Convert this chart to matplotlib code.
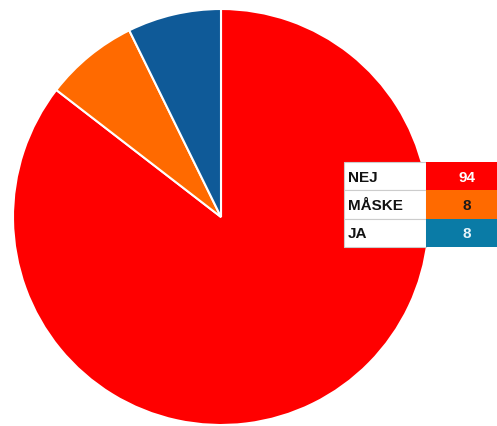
import matplotlib
matplotlib.use("Agg")
import matplotlib.pyplot as plt
from matplotlib.patches import Rectangle

labels = ["NEJ", "MÅSKE", "JA"]
values = [94, 8, 8]
pie_colors = ["#ff0000", "#ff6a00", "#0f5a98"]
cell_colors = ["#ff0000", "#ff6a00", "#0a7ba6"]
value_text_colors = ["#ffffff", "#1a1a1a", "#e8f4fa"]

W, H = 497, 427
fig = plt.figure(figsize=(W / 100, H / 100), dpi=100)

# pie axes
cx, cy, r = 221, 218, 208
ax = fig.add_axes([(cx - r) / W, (H - cy - r) / H, 2 * r / W, 2 * r / H])
ax.pie(values, colors=pie_colors, startangle=90, counterclock=False, radius=1,
       wedgeprops=dict(edgecolor="white", linewidth=1.5))
ax.set_xlim(-1, 1)
ax.set_ylim(-1, 1)
ax.set_aspect("auto")
ax.axis("off")

# table overlay in pixel coordinates
tax = fig.add_axes([0, 0, 1, 1])
tax.set_xlim(0, W)
tax.set_ylim(H, 0)
tax.axis("off")

fam = ["Liberation Sans Narrow", "Liberation Sans", "DejaVu Sans"]
x0, xsplit, x1 = 344, 426, 510
ytop, rowh = 163, 28.3
for i, (lab, val) in enumerate(zip(labels, values)):
    y = ytop + i * rowh
    tax.add_patch(Rectangle((x0, y), xsplit - x0, rowh, facecolor="white",
                            edgecolor="#cccccc", linewidth=0.8, zorder=2))
    tax.add_patch(Rectangle((xsplit, y), x1 - xsplit, rowh, facecolor=cell_colors[i],
                            edgecolor="none", zorder=2))
    tax.text(x0 + 4, y + rowh / 2 + 0.5, lab, ha="left", va="center", fontsize=11,
             fontweight="bold", color="#111111", family=fam, zorder=3)
    tax.text(467, y + rowh / 2 + 0.5, str(val), ha="center", va="center", fontsize=11,
             fontweight="bold", color=value_text_colors[i], family=fam, zorder=3)

fig.savefig("out.png", dpi=100)
